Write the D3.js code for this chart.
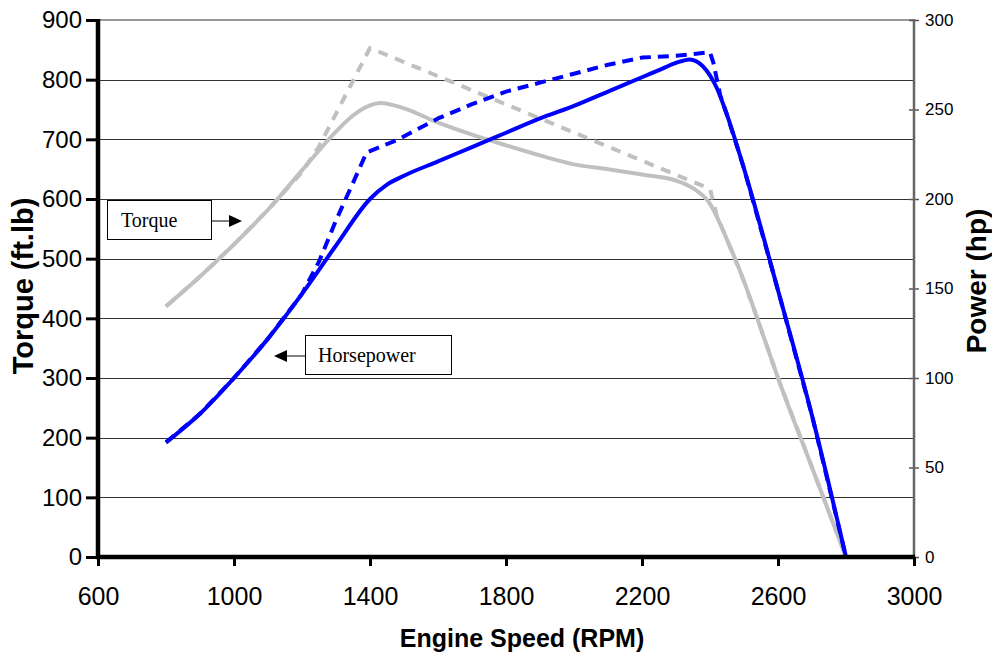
<!DOCTYPE html>
<html>
<head>
<meta charset="utf-8">
<script src="https://cdn.jsdelivr.net/npm/d3@7"></script>
<style>
  html, body { margin: 0; padding: 0; background: #fff; }
  svg { display: block; }
</style>
</head>
<body>
<svg id="chart" width="992" height="654"></svg>
<script>
// ---------- DATA ----------
const xTicks = [600, 1000, 1400, 1800, 2200, 2600, 3000];
const torqueTicks = [0, 100, 200, 300, 400, 500, 600, 700, 800, 900];
const powerTicks = [0, 50, 100, 150, 200, 250, 300];

// Torque (ft.lb), solid grey
const torqueSolidRpm = [800, 900, 1000, 1100, 1200, 1300, 1350, 1400, 1430, 1500, 1600, 1700, 1800, 1900, 2000, 2100, 2200, 2300, 2350, 2400, 2450, 2500, 2550, 2600, 2700, 2800];
const torqueSolidVal = [420, 470, 524, 582, 648, 713, 740, 757, 761, 752, 728, 708, 690, 673, 658, 650, 641, 631, 618, 592, 532, 462, 382, 300, 150, 0];

// Torque (ft.lb), dashed grey
const torqueDashedRpm = [800, 900, 1000, 1100, 1200, 1250, 1400, 2400, 2420, 2450, 2500, 2550, 2600, 2700, 2800];
const torqueDashedVal = [420, 470, 524, 582, 645, 688, 853, 617, 572, 532, 462, 382, 300, 150, 0];

// Power (hp), solid blue
const hpSolidRpm = [800, 900, 1000, 1100, 1200, 1300, 1400, 1450, 1500, 1600, 1700, 1800, 1900, 2000, 2100, 2200, 2250, 2300, 2340, 2380, 2420, 2450, 2500, 2600, 2700, 2800];
const hpSolidVal = [64, 80, 100, 122, 147, 174, 200, 208, 213, 221, 229, 237, 245, 252, 260, 268, 272, 276, 278, 274, 262, 247, 217, 149, 79, 0];

// Power (hp), dashed blue
const hpDashedRpm = [800, 900, 1000, 1100, 1200, 1250, 1300, 1350, 1390, 1480, 1600, 1700, 1800, 1900, 2000, 2100, 2200, 2300, 2400, 2410, 2430, 2450, 2500, 2600, 2700, 2800];
const hpDashedVal = [64, 80, 100, 122, 147, 165, 188, 209, 226, 233, 245, 253, 260, 265, 270, 275, 279, 280, 282, 276, 258, 247, 217, 149, 79, 0];

// Annotations
const torqueLabel = "Torque";
const hpLabel = "Horsepower";
const xTitle = "Engine Speed (RPM)";
const yLeftTitle = "Torque (ft.lb)";
const yRightTitle = "Power (hp)";

// ---------- LAYOUT ----------
const pL = 98, pR = 914, pT = 20, pB = 557;
const svg = d3.select("#chart");

const x = d3.scaleLinear().domain([600, 3000]).range([pL, pR]);
const yT = d3.scaleLinear().domain([0, 900]).range([pB, pT]);
const yP = d3.scaleLinear().domain([0, 300]).range([pB, pT]);

const sans = "'Liberation Sans', Arial, Helvetica, sans-serif";
const serif = "'Liberation Serif', 'Times New Roman', serif";

// gridlines
svg.append("g").selectAll("line")
  .data(torqueTicks.filter(d => d > 0 && d < 900))
  .join("line")
  .attr("x1", pL).attr("x2", pR)
  .attr("y1", d => Math.round(yT(d)) + 0.5).attr("y2", d => Math.round(yT(d)) + 0.5)
  .style("stroke", "#333").style("stroke-width", 1);

// top border
svg.append("line")
  .attr("x1", pL).attr("x2", pR)
  .attr("y1", pT).attr("y2", pT)
  .style("stroke", "#999").style("stroke-width", 2);

// right axis
const rAxis = svg.append("g")
  .attr("transform", `translate(${pR},0)`)
  .call(d3.axisRight(yP).tickValues(powerTicks).tickSize(5).tickSizeOuter(0).tickPadding(6));
rAxis.select(".domain").remove();
rAxis.selectAll(".tick line").attr("x1", -5).attr("x2", 5).style("stroke", "#555").style("stroke-width", 1.5);
rAxis.selectAll(".tick text").attr("font-family", sans).attr("font-size", 17).attr("fill", "#000").attr("x", 11);
svg.append("line").attr("x1", pR).attr("x2", pR).attr("y1", pT - 1).attr("y2", pB + 2)
  .style("stroke", "#666").style("stroke-width", 2.5);

// lines
const line = (xs, ys, yScale, curve) => d3.line()
  .x((d, i) => x(xs[i]))
  .y((d, i) => yScale(ys[i]))
  .curve(curve)(xs);

const g = svg.append("g").attr("fill", "none").attr("stroke-linejoin", "round");

g.append("path")
  .attr("d", line(torqueSolidRpm, torqueSolidVal, yT, d3.curveMonotoneX))
  .attr("stroke", "#c0c0c0").attr("stroke-width", 4);
g.append("path")
  .attr("d", line(torqueDashedRpm, torqueDashedVal, yT, d3.curveLinear))
  .attr("stroke", "#c0c0c0").attr("stroke-width", 4)
  .attr("stroke-dasharray", "10,8");
g.append("path")
  .attr("d", line(hpSolidRpm, hpSolidVal, yP, d3.curveMonotoneX))
  .attr("stroke", "#0000ff").attr("stroke-width", 4);
g.append("path")
  .attr("d", line(hpDashedRpm, hpDashedVal, yP, d3.curveLinear))
  .attr("stroke", "#0000ff").attr("stroke-width", 4)
  .attr("stroke-dasharray", "11,7");

// left axis
const lAxis = svg.append("g")
  .attr("transform", `translate(${pL},0)`)
  .call(d3.axisLeft(yT).tickValues(torqueTicks).tickSize(12).tickSizeOuter(0).tickPadding(4));
lAxis.select(".domain").remove();
lAxis.selectAll(".tick line").style("stroke", "#000").style("stroke-width", 3);
lAxis.selectAll(".tick text").attr("font-family", sans).attr("font-size", 24).attr("fill", "#000");

// bottom axis
const bAxis = svg.append("g")
  .attr("transform", `translate(0,${pB})`)
  .call(d3.axisBottom(x).tickValues(xTicks).tickFormat(d3.format("d")).tickSize(9).tickSizeOuter(0).tickPadding(21));
bAxis.select(".domain").remove();
bAxis.selectAll(".tick line").style("stroke", "#000").style("stroke-width", 3);
bAxis.selectAll(".tick text").attr("font-family", sans).attr("font-size", 25).attr("fill", "#000");

// thick axis lines
svg.append("line").attr("x1", pL).attr("x2", pL).attr("y1", pT - 1).attr("y2", pB + 2)
  .style("stroke", "#000").style("stroke-width", 4.5);
svg.append("line").attr("x1", pL - 2).attr("x2", pR + 1).attr("y1", pB).attr("y2", pB)
  .style("stroke", "#000").style("stroke-width", 4.5);

// axis titles
svg.append("text")
  .attr("x", 522).attr("y", 647)
  .attr("text-anchor", "middle")
  .attr("font-family", sans).attr("font-weight", "bold").attr("font-size", 25)
  .text(xTitle);
svg.append("text")
  .attr("transform", `translate(33,286) rotate(-90)`)
  .attr("text-anchor", "middle")
  .attr("font-family", sans).attr("font-weight", "bold").attr("font-size", 29)
  .text(yLeftTitle);
svg.append("text")
  .attr("transform", `translate(986,281) rotate(-90)`)
  .attr("text-anchor", "middle")
  .attr("font-family", sans).attr("font-weight", "bold").attr("font-size", 28)
  .text(yRightTitle);

// annotation boxes
function callout(bx, by, bw, bh, label, tx, ty, ax1, ax2, ay, dir) {
  svg.append("rect").attr("x", bx + 0.5).attr("y", by + 0.5).attr("width", bw).attr("height", bh)
    .attr("fill", "#fff").attr("stroke", "#000").attr("stroke-width", 1);
  svg.append("text").attr("x", tx).attr("y", ty)
    .attr("font-family", serif).attr("font-size", 20).attr("fill", "#000").text(label);
  const tipX = ax2, baseX = ax2 - dir * 13;
  svg.append("line").attr("x1", ax1).attr("x2", baseX).attr("y1", ay).attr("y2", ay)
    .attr("stroke", "#000").attr("stroke-width", 1);
  svg.append("path")
    .attr("d", `M${tipX},${ay} L${baseX},${ay - 6} L${baseX},${ay + 6} Z`)
    .attr("fill", "#000");
}
callout(107, 200, 104, 39, torqueLabel, 121, 227, 211, 242, 221, 1);
callout(305, 335, 146, 39, hpLabel, 318, 362, 305, 274, 356, -1);
</script>
</body>
</html>
